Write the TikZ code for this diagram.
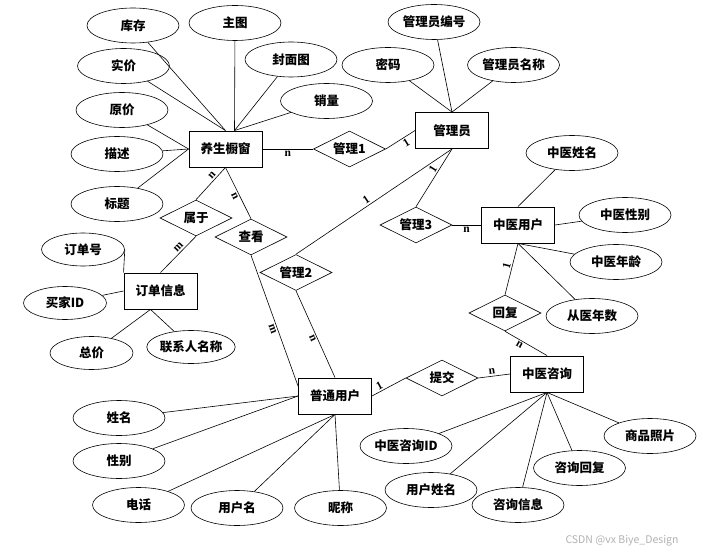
\documentclass[tikz,border=0pt]{standalone}
\usepackage{fontspec}
\setmainfont{Noto Sans CJK SC}
\newfontfamily\cardfont{Liberation Serif}
\usetikzlibrary{shapes.geometric}

\begin{document}
\begin{tikzpicture}[
    x=1pt, y=-1pt,
    label text/.style={font=\fontsize{12.5}{14}\selectfont\bfseries},
    entity/.style={rectangle, draw, line width=0.9pt, minimum width=73pt, minimum height=36pt, inner sep=0pt, label text},
    attr/.style={ellipse, draw, line width=0.6pt, minimum width=92pt, minimum height=35pt, inner sep=0pt, label text},
    smallattr/.style={attr, minimum width=83pt, minimum height=33pt},
    rel/.style={diamond, draw, line width=0.6pt, aspect=2, minimum width=72pt, minimum height=36pt, inner sep=0pt, label text},
    card/.style={font=\cardfont\bfseries\fontsize{11.5}{11.5}\selectfont, inner sep=1.5pt, sloped},
    link/.style={line width=0.6pt}
]
    \path[use as bounding box, fill=white] (0,0) rectangle (703,553);

    % Entities
    \node[entity] (shop) at (225.5,149) {养生橱窗};
    \node[entity] (admin) at (452,130.5) {管理员};
    \node[entity] (tcmuser) at (518,225) {中医用户};
    \node[entity] (order) at (160.5,291) {订单信息};
    \node[entity] (user) at (335,396) {普通用户};
    \node[entity] (consult) at (547,374) {中医咨询};

    % Relations
    \node[rel] (manage1) at (349.5,149) {管理1};
    \node[rel] (belong) at (196,218) {属于};
    \node[rel] (view) at (251,237) {查看};
    \node[rel] (manage2) at (296,272.5) {管理2};
    \node[rel] (manage3) at (416,225) {管理3};
    \node[rel] (reply) at (505,313) {回复};
    \node[rel] (submit) at (442,378) {提交};

    % Attributes
    \node[attr] (kucun) at (133,25.5) {库存};
    \node[attr] (zhutu) at (235,23) {主图};
    \node[attr] (shijia) at (123.5,66) {实价};
    \node[attr] (fengmian) at (291,59.5) {封面图};
    \node[attr] (xiaoliang) at (326.5,101) {销量};
    \node[attr] (yuanjia) at (122,110) {原价};
    \node[attr] (miaoshu) at (117,154) {描述};
    \node[attr] (biaoti) at (117,204) {标题};

    \node[attr] (adminno) at (434,22) {管理员编号};
    \node[attr] (mima) at (388,65) {密码};
    \node[attr] (adminname) at (513.5,65) {管理员名称};

    \node[attr] (tcmname) at (572,153) {中医姓名};
    \node[attr] (tcmsex) at (625,215) {中医性别};
    \node[attr] (tcmage) at (616,262) {中医年龄};
    \node[attr] (tcmyears) at (592,316) {从医年数};

    \node[smallattr] (orderno) at (83,249.5) {订单号};
    \node[smallattr] (buyerid) at (65,303) {买家ID};
    \node[smallattr] (total) at (91.5,353) {总价};
    \node[smallattr] (contact) at (191,347) {联系人名称};

    \node[attr] (uname) at (119,418) {姓名};
    \node[attr] (usex) at (119,461) {性别};
    \node[attr] (phone) at (138.5,505) {电话};
    \node[attr] (username) at (237,508) {用户名};
    \node[attr] (nick) at (340.5,508) {昵称};

    \node[attr] (consultid) at (406,446) {中医咨询ID};
    \node[attr] (cusername) at (431,490) {用户姓名};
    \node[attr] (cinfo) at (518,505) {咨询信息};
    \node[attr] (creply) at (579.5,468) {咨询回复};
    \node[attr] (cphoto) at (650,436) {商品照片};

    \node[font=\fontsize{10.5}{12}\selectfont, text=gray!60] (mark) at (622,541) {CSDN @vx Biye\_Design};

    % Attribute lines
    \foreach \a in {kucun, shijia}
        \draw[link] (\a) -- (shop.north);
    \foreach \a in {zhutu, fengmian, xiaoliang}
        \draw[link] (\a) -- ([xshift=9pt]shop.north);
    \foreach \a in {yuanjia, miaoshu, biaoti}
        \draw[link] (\a) -- (shop.west);
    \foreach \a in {adminno, mima, adminname}
        \draw[link] (\a) -- (admin.north);
    \draw[link] (tcmname) -- (tcmuser.north);
    \draw[link] (tcmsex) -- (tcmuser.east);
    \draw[link] (tcmage) -- (tcmuser.south);
    \draw[link] (tcmyears) -- (tcmuser.south);
    \draw[link] (orderno.east) -- (order.north west);
    \draw[link] (buyerid) -- (order.west);
    \draw[link] (total) -- ([xshift=-10pt]order.south);
    \draw[link] (contact) -- ([xshift=-10pt]order.south);
    \foreach \a in {uname, usex}
        \draw[link] (\a) -- (user.west);
    \foreach \a in {phone, username, nick}
        \draw[link] (\a) -- (user.south);
    \foreach \a in {consultid, cusername, cinfo, creply, cphoto}
        \draw[link] (\a) -- (consult.south);

    % Relation lines
    \draw[link] (shop) -- node[card, below] {n} (manage1);
    \draw[link] (manage1.east) -- node[card, pos=.6, below] {1} (admin.west);
    \draw[link] (admin.south) -- node[card, pos=.4, above] {1} (manage3.north);
    \draw[link] (admin.south) -- node[card, pos=.53, above] {1} (manage2.north);
    \draw[link] (manage3.east) -- node[card, below] {n} (tcmuser.west);
    \draw[link] (tcmuser.south) -- node[card, pos=.46, above] {1} (reply.north);
    \draw[link] (reply.south) -- node[card, pos=.4, below] {n} (consult.north);
    \draw[link] (user.east) -- node[card, pos=.3, above] {1} (submit.west);
    \draw[link] (submit.east) -- node[card, pos=.45, above] {n} (consult.west);
    \draw[link] (shop.south) -- node[card, pos=.34, above] {n} (belong.north);
    \draw[link] (shop.south) -- node[card, pos=.52, below] {n} (view.north);
    \draw[link] (belong.south) -- node[card, pos=.4, above] {m} (order.north);
    \draw[link] (view.south) -- node[card, pos=.55, below] {m} (user.165);
    \draw[link] (manage2.south) -- node[card, pos=.53, below] {n} (user.north);

\end{tikzpicture}
\end{document}
